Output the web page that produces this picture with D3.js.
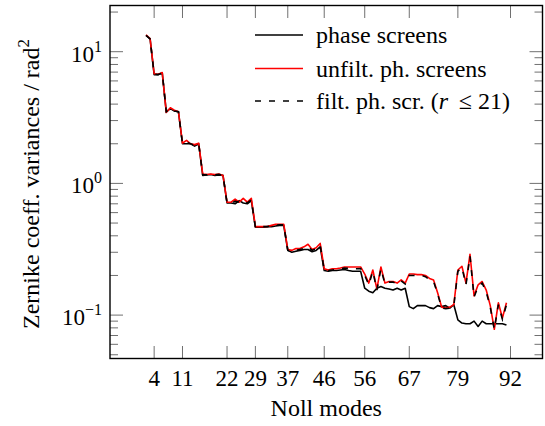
<!DOCTYPE html>
<html>
<head>
<meta charset="utf-8">
<script src="https://cdn.jsdelivr.net/npm/d3@7"></script>
<style>
  body { margin: 0; background: #fff; }
  svg text, svg tspan { font-family: "Liberation Serif", Tinos, "Times New Roman", monospace !important; }
</style>
</head>
<body>
<svg id="chart" width="545" height="426"></svg>
<script>
// Noll modes 2..91
const modes = d3.range(2, 92);
const phaseScreens = [
  13.3, 12.5,
  6.7, 6.7, 6.9,
  3.5, 3.7, 3.55, 3.5,
  2.0, 2.0, 2.0, 1.92, 2.0,
  1.15, 1.16, 1.17, 1.15, 1.16, 1.15,
  0.71, 0.71, 0.70, 0.74, 0.71, 0.70, 0.74,
  0.465, 0.465, 0.465, 0.47, 0.47, 0.475, 0.48, 0.48,
  0.31, 0.30, 0.305, 0.31, 0.315, 0.315, 0.303, 0.31, 0.33,
  0.218, 0.215, 0.218, 0.218, 0.22, 0.222, 0.218, 0.215, 0.215, 0.215,
  0.16, 0.152, 0.148, 0.16, 0.165, 0.16, 0.158, 0.155, 0.16, 0.155, 0.16,
  0.116, 0.112, 0.118, 0.118, 0.118, 0.114, 0.112, 0.118, 0.116, 0.118, 0.113, 0.12,
  0.092, 0.087, 0.086, 0.086, 0.09, 0.082, 0.09, 0.086, 0.086, 0.086, 0.086, 0.086, 0.084
];
const unfiltered = [
  13.4, 12.6,
  6.8, 6.75, 6.95,
  3.45, 3.75, 3.6, 3.5,
  2.02, 2.12, 2.0, 1.97, 2.02,
  1.17, 1.17, 1.18, 1.17, 1.18, 1.15,
  0.72, 0.72, 0.76, 0.72, 0.77, 0.72, 0.77,
  0.47, 0.47, 0.47, 0.47, 0.48, 0.49, 0.49, 0.49,
  0.315, 0.31, 0.32, 0.32, 0.33, 0.345, 0.315, 0.325, 0.35,
  0.225, 0.22, 0.225, 0.225, 0.228, 0.232, 0.232, 0.232, 0.232, 0.232,
  0.205, 0.175, 0.22, 0.158, 0.232, 0.175, 0.18, 0.18, 0.175, 0.185, 0.175,
  0.205, 0.205, 0.203, 0.203, 0.2, 0.19, 0.185, 0.148, 0.115, 0.113, 0.115, 0.12,
  0.22, 0.235, 0.175, 0.29, 0.14, 0.17, 0.18, 0.155, 0.118, 0.078, 0.124, 0.095, 0.124
];
const filtered = [
  13.3, 12.5,
  6.75, 6.7, 6.9,
  3.5, 3.7, 3.55, 3.5,
  2.0, 2.05, 2.0, 1.94, 2.0,
  1.16, 1.16, 1.17, 1.16, 1.17, 1.15,
  0.71, 0.71, 0.73, 0.72, 0.74, 0.71, 0.75,
  0.465, 0.465, 0.47, 0.47, 0.475, 0.48, 0.485, 0.485,
  0.31, 0.305, 0.31, 0.315, 0.32, 0.33, 0.31, 0.318, 0.34,
  0.22, 0.218, 0.22, 0.222, 0.225, 0.228, 0.226, 0.225, 0.225, 0.226,
  0.2, 0.17, 0.215, 0.155, 0.225, 0.172, 0.178, 0.178, 0.172, 0.182, 0.172,
  0.2, 0.2, 0.2, 0.2, 0.196, 0.185, 0.18, 0.145, 0.113, 0.112, 0.113, 0.118,
  0.215, 0.23, 0.17, 0.28, 0.137, 0.165, 0.175, 0.15, 0.115, 0.078, 0.12, 0.093, 0.12
];
const xTicks = [4, 11, 22, 29, 37, 46, 56, 67, 79, 92];
const yTicks = [0.1, 1, 10];
const yTickExps = ["\u22121", "0", "1"];
const legendLabels = ["phase screens", "unfilt. ph. screens", "filt. ph. scr."];

const FONT = "font-family: 'Liberation Serif', Tinos, monospace";
const svg = d3.select("#chart");
const L = 110, R = 542.5, T = 5.5, B = 358.5;

const x = d3.scaleLinear().domain([-6.9, 99.9]).range([L, R]);
const y = d3.scaleLog().domain([Math.pow(10, -1.3295), Math.pow(10, 1.3508)]).range([B, T]);

const tickColor = "#707070";

// minor y ticks
const minor = [];
for (let e = -2; e <= 1; e++) {
  for (let m = 2; m <= 9; m++) {
    const v = m * Math.pow(10, e);
    if (v > y.domain()[0] && v < y.domain()[1]) minor.push(v);
  }
}
const g = svg.append("g");
minor.forEach(v => {
  g.append("line").attr("x1", L).attr("x2", L + 8).attr("y1", y(v)).attr("y2", y(v))
    .attr("stroke", tickColor).attr("stroke-width", 1);
  g.append("line").attr("x1", R).attr("x2", R - 8).attr("y1", y(v)).attr("y2", y(v))
    .attr("stroke", tickColor).attr("stroke-width", 1);
});
yTicks.forEach(v => {
  g.append("line").attr("x1", L).attr("x2", L + 13).attr("y1", y(v)).attr("y2", y(v))
    .attr("stroke", tickColor).attr("stroke-width", 1);
  g.append("line").attr("x1", R).attr("x2", R - 13).attr("y1", y(v)).attr("y2", y(v))
    .attr("stroke", tickColor).attr("stroke-width", 1);
});
xTicks.forEach(v => {
  g.append("line").attr("x1", x(v)).attr("x2", x(v)).attr("y1", B).attr("y2", B - 12.5)
    .attr("stroke", tickColor).attr("stroke-width", 1);
  g.append("line").attr("x1", x(v)).attr("x2", x(v)).attr("y1", T).attr("y2", T + 12.5)
    .attr("stroke", tickColor).attr("stroke-width", 1);
});

// lines
const line = data => d3.line().x((d, i) => x(modes[i])).y(d => y(d))(data);
svg.append("path").attr("d", line(phaseScreens)).attr("fill", "none")
  .attr("stroke", "#000").attr("stroke-width", 1.6).attr("stroke-linejoin", "round");
svg.append("path").attr("d", line(unfiltered)).attr("fill", "none")
  .attr("stroke", "#ff0000").attr("stroke-width", 1.6).attr("stroke-linejoin", "round");
svg.append("path").attr("d", line(filtered)).attr("fill", "none")
  .attr("stroke", "#000").attr("stroke-width", 1.6).attr("stroke-dasharray", "6,8");

// frame
svg.append("rect").attr("x", L).attr("y", T).attr("width", R - L).attr("height", B - T)
  .attr("fill", "none").attr("stroke", "#000").attr("stroke-width", 1.4);

const txt = () => svg.append("text").attr("style", FONT).attr("font-family", "Liberation Serif");

// x tick labels
xTicks.forEach(v => {
  txt().attr("x", x(v)).attr("y", 386).attr("text-anchor", "middle")
    .attr("font-size", 23).text(v);
});
// y tick labels
yTicks.forEach((v, i) => {
  const t = txt().attr("x", 102).attr("y", y(v) + 10).attr("text-anchor", "end")
    .attr("font-size", 23);
  t.append("tspan").text("10");
  t.append("tspan").attr("font-size", 16).attr("dy", -10).text(yTickExps[i]);
});

// axis titles
txt().attr("x", (L + R) / 2).attr("y", 416).attr("text-anchor", "middle")
  .attr("font-size", 24).text("Noll modes");
const yt = txt().attr("transform", "translate(39,184) rotate(-90)")
  .attr("text-anchor", "middle").attr("font-size", 24);
yt.append("tspan").text("Zernike coeff. variances / rad");
yt.append("tspan").attr("font-size", 17).attr("dy", -10).text("2");

// legend
const legY = [35, 68.5, 101];
const legStyles = [
  { stroke: "#000", dash: null },
  { stroke: "#ff0000", dash: null },
  { stroke: "#000", dash: "6,8" }
];
legStyles.forEach((s, i) => {
  const l = svg.append("line").attr("x1", 255).attr("x2", 303).attr("y1", legY[i]).attr("y2", legY[i])
    .attr("stroke", s.stroke).attr("stroke-width", 1.6);
  if (s.dash) l.attr("stroke-dasharray", s.dash);
  const t = txt().attr("x", 316).attr("y", legY[i] + 8).attr("font-size", 24);
  t.append("tspan").text(legendLabels[i]);
  if (i === 2) {
    t.append("tspan").text(" (");
    t.append("tspan").attr("font-style", "italic").text("r");
    t.append("tspan").text("\u2009 \u2264 21)");
  }
});
</script>
</body>
</html>
